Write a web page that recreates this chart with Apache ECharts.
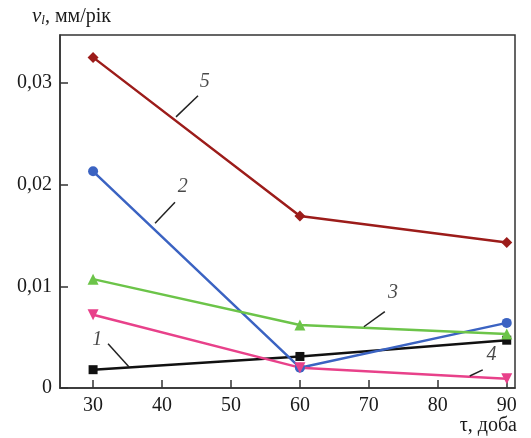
<!DOCTYPE html>
<html>
<head>
<meta charset="utf-8">
<script src="https://cdn.jsdelivr.net/npm/echarts@6/dist/echarts.min.js"></script>
<style>html,body{margin:0;padding:0;background:#fff}#c{width:531px;height:438px}</style>
</head>
<body>
<div id="c"></div>
<script>
const days = [30, 60, 90];
const xTicks = [30, 40, 50, 60, 70, 80, 90];
const yTicks = [0, 0.01, 0.02, 0.03];
const s1 = [0.0018, 0.0031, 0.0047];
const s2 = [0.0213, 0.0020, 0.0064];
const s3 = [0.0107, 0.0062, 0.0053];
const s4 = [0.0072, 0.0020, 0.0009];
const s5 = [0.0325, 0.0169, 0.0143];
// curve labels: text, label position, leader start, leader end (data coords)
const curveLabels = [
  {t: '1', at: [30.6, 0.00474], from: [32.17, 0.00434], to: [35.22, 0.00207]},
  {t: '2', at: [43.0, 0.01974], from: [41.88, 0.01826], to: [38.99, 0.01619]},
  {t: '3', at: [73.5, 0.00938], from: [72.32, 0.00750], to: [69.28, 0.00602]},
  {t: '4', at: [87.8, 0.00326], from: [86.52, 0.00178], to: [84.64, 0.00118]},
  {t: '5', at: [46.2, 0.03011], from: [45.22, 0.02873], to: [42.03, 0.02665]}
];

const serif = '"Liberation Serif", "DejaVu Serif", serif';
const txt = '#1a1a1a';
const pair = (arr) => days.map((d, i) => [d, arr[i]]);
function lineSeries(data, color, symbol, size, rotate) {
  return {
    type: 'line', data: pair(data), symbol: symbol, symbolSize: size,
    symbolRotate: rotate || 0, z: 3,
    lineStyle: {color: color, width: 2.5},
    itemStyle: {color: color},
    emphasis: {disabled: true}
  };
}

const chart = echarts.init(document.getElementById('c'));
chart.setOption({
  animation: false,
  grid: {left: 60, right: 16, top: 35, bottom: 50, show: true, borderColor: '#333', borderWidth: 1.5},
  xAxis: {
    type: 'value', min: 25.2, max: 91.2,
    axisLine: {show: true, onZero: false, lineStyle: {color: '#333', width: 1.5}},
    axisTick: {show: true, inside: true, length: 8, customValues: xTicks, lineStyle: {color: '#333', width: 1.5}},
    axisLabel: {customValues: xTicks, color: txt, fontFamily: serif, fontSize: 20, margin: 8},
    splitLine: {show: false},
    name: 'τ, доба', nameLocation: 'end', nameGap: 0,
    nameTextStyle: {fontFamily: serif, fontSize: 20, color: txt, align: 'right', verticalAlign: 'top', padding: [28, -2, 0, 0]}
  },
  yAxis: {
    type: 'value', min: 0, max: 0.0347,
    axisLine: {show: true, lineStyle: {color: '#333', width: 1.5}},
    axisTick: {show: true, inside: true, length: 8, customValues: yTicks, lineStyle: {color: '#333', width: 1.5}},
    axisLabel: {customValues: yTicks, color: txt, fontFamily: serif, fontSize: 20, margin: 8,
      formatter: v => v === 0 ? '0' : v.toFixed(2).replace('.', ',')},
    splitLine: {show: false},
    name: '{v|v}{s|l}{n|, мм/рік}', nameLocation: 'end', nameGap: 8,
    nameTextStyle: {
      align: 'left', padding: [0, 0, 0, -28],
      rich: {
        v: {fontFamily: serif, fontStyle: 'italic', fontSize: 21, color: txt},
        s: {fontFamily: serif, fontStyle: 'italic', fontSize: 13, color: txt, verticalAlign: 'bottom', padding: [7, 0, 0, 0]},
        n: {fontFamily: serif, fontSize: 20, color: txt}
      }
    }
  },
  series: [
    lineSeries(s1, '#111111', 'rect', 9),
    lineSeries(s2, '#3b63c2', 'circle', 10),
    lineSeries(s3, '#6cc449', 'triangle', 11),
    lineSeries(s4, '#e8418a', 'triangle', 11, 180),
    lineSeries(s5, '#9c1c1a', 'diamond', 11),
    {
      type: 'line', data: [], silent: true,
      markLine: {
        silent: true, symbol: 'none', animation: false,
        lineStyle: {color: '#222', width: 1.5, type: 'solid'},
        label: {show: false},
        data: curveLabels.map(c => [{coord: c.from}, {coord: c.to}])
      }
    },
    {
      type: 'scatter', symbolSize: 0, silent: true,
      data: curveLabels.map(c => ({value: c.at, name: c.t})),
      label: {show: true, position: 'inside', formatter: p => p.name,
        fontFamily: serif, fontStyle: 'italic', fontSize: 20, color: txt}
    }
  ]
});
</script>
</body>
</html>
